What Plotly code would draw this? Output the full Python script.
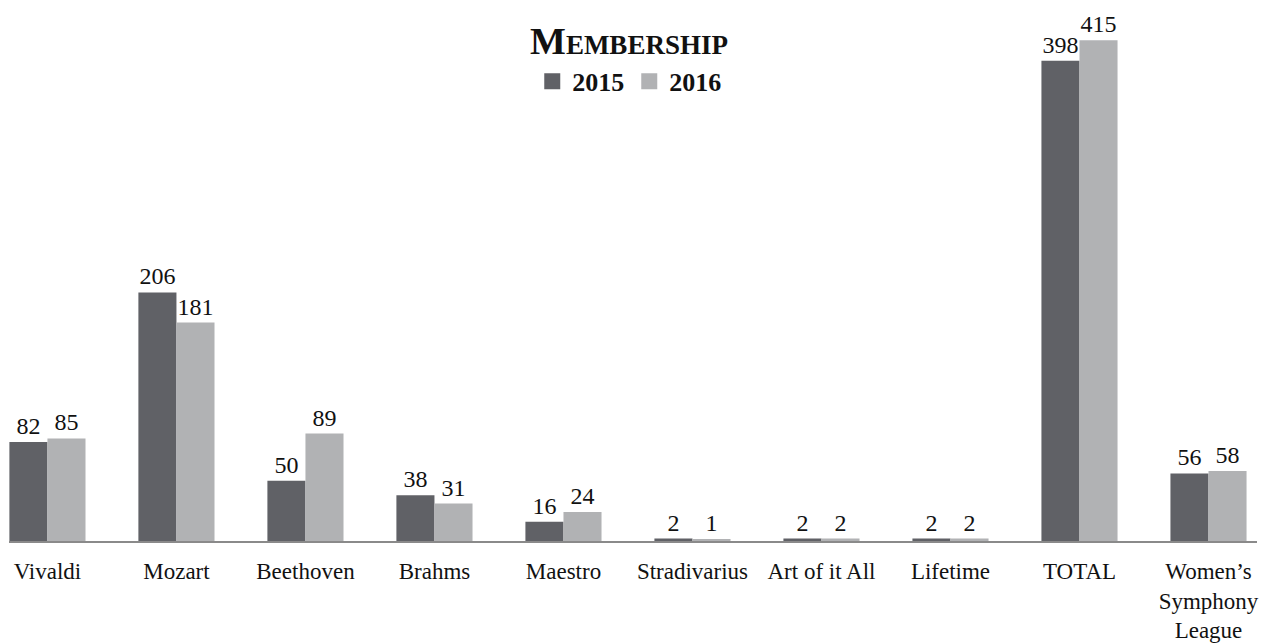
import plotly.graph_objects as go

categories = ["Vivaldi", "Mozart", "Beethoven", "Brahms", "Maestro", "Stradivarius",
              "Art of it All", "Lifetime", "TOTAL", "Women’s<br>Symphony<br>League"]
values_2015 = [82, 206, 50, 38, 16, 2, 2, 2, 398, 56]
values_2016 = [85, 181, 89, 31, 24, 1, 2, 2, 415, 58]
series_names = ["2015", "2016"]
colors = ["#606166", "#b1b2b4"]

FONT = "Liberation Serif"

fig = go.Figure()
for name, vals, col in zip(series_names, [values_2015, values_2016], colors):
    fig.add_trace(go.Bar(
        name=name, x=categories, y=vals, marker=dict(color=col, line=dict(width=0)),
        text=[str(v) for v in vals], textposition="outside", cliponaxis=False,
        constraintext="none", showlegend=False,
        textfont=dict(family=FONT, size=24, color="#111111"),
    ))
# legend entries (larger square swatches)
for name, col in zip(series_names, colors):
    fig.add_trace(go.Scatter(
        name=name, x=[None], y=[None], mode="markers",
        marker=dict(symbol="square", size=18, color=col), showlegend=True,
    ))

# page body has an 8px margin: figure is sized/positioned to compensate
fig.update_layout(
    width=1269, height=635,
    margin=dict(l=1, r=20, t=0, b=97),
    paper_bgcolor="white", plot_bgcolor="white",
    barmode="group", bargap=0.41, bargroupgap=0,
    font=dict(family=FONT, color="#111111"),
    showlegend=True,
    legend=dict(orientation="h", x=0.497, xanchor="center", y=1 - 74 / 538, yanchor="middle",
                font=dict(family=FONT, size=26, color="#111111", weight="bold"),
                traceorder="normal", bgcolor="rgba(0,0,0,0)", itemwidth=30),
    xaxis=dict(range=[-0.298, 9.376], showgrid=False, zeroline=False,
               showline=True, linecolor="#8a8a8a", linewidth=2,
               ticks="", ticklabelstandoff=8,
               tickfont=dict(family=FONT, size=23, color="#111111")),
    yaxis=dict(range=[0, 441.7], visible=False, showgrid=False, zeroline=False),
)

fig.add_annotation(
    xref="paper", yref="paper", x=0.497, y=1 - 33 / 538, xanchor="center", yanchor="middle",
    showarrow=False,
    text="<b><span style='font-size:38px'>M</span><span style='font-size:27px'>EMBERSHIP</span></b>",
    font=dict(family=FONT, size=27, color="#111111"),
)

fig.write_html("out.html")
